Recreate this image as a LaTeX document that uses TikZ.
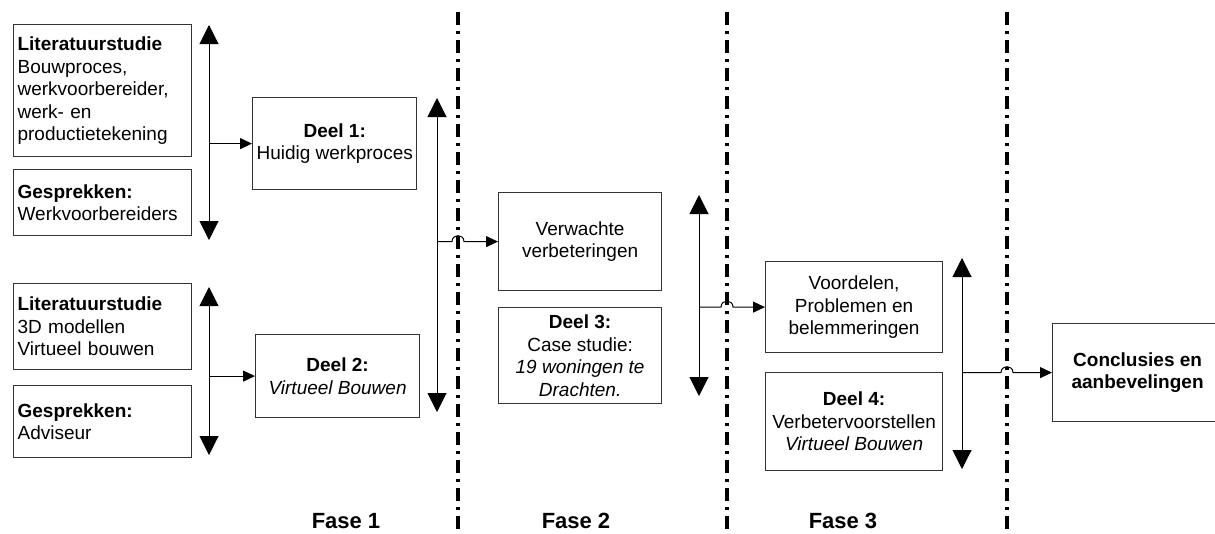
\documentclass[tikz,border=0pt]{standalone}
\usepackage{fontspec}
\setmainfont{Liberation Sans}
\usetikzlibrary{arrows.meta}
\begin{document}
\begin{tikzpicture}[x=1pt,y=-1pt,
  box/.style={draw=black!80, line width=1.2pt, inner sep=4pt, align=center,
    font=\fontsize{19}{22.5}\selectfont, anchor=north west},
  lbox/.style={box, align=left, text width=170pt},
  dbl/.style={line width=1pt, {Triangle[length=19pt,width=19pt]}-{Triangle[length=19pt,width=19pt]}},
  conn/.style={line width=1pt, -{Triangle[length=12pt,width=11pt]}},
  sep/.style={line width=3.5pt, dash pattern=on 13pt off 6pt on 3pt off 6pt},
  fase/.style={font=\fontsize{22}{26}\selectfont\bfseries}]
\useasboundingbox (0,0) rectangle (1215,533);

% separator lines
\coordinate (L1t) at (458,12); \coordinate (L1b) at (458,533);
\coordinate (L2t) at (727,12); \coordinate (L2b) at (727,533);
\coordinate (L3t) at (1007,12); \coordinate (L3b) at (1007,533);
\draw[sep] (L1t) -- (L1b);
\draw[sep] (L2t) -- (L2b);
\draw[sep] (L3t) -- (L3b);

% left input boxes
\node[lbox, minimum width=178pt, minimum height=132pt] (b1) at (13,24)
  {\textbf{Literatuurstudie}\\Bouwproces,\\werkvoorbereider,\\werk- en\\productietekening};
\node[lbox, minimum width=178pt, minimum height=66pt] (b2) at (13,169)
  {\textbf{Gesprekken:}\\Werkvoorbereiders};
\node[lbox, minimum width=178pt, minimum height=86pt] (b3) at (13,283)
  {\textbf{Literatuurstudie}\\3D modellen\\Virtueel bouwen};
\node[lbox, minimum width=178pt, minimum height=72pt] (b4) at (13,385)
  {\textbf{Gesprekken:}\\Adviseur};

% Deel boxes
\node[box, minimum width=164pt, minimum height=92pt] (d1) at (252,97)
  {\textbf{Deel 1:}\\Huidig werkproces};
\node[box, minimum width=164pt, minimum height=83pt] (d2) at (255,334)
  {\textbf{Deel 2:}\\\textit{Virtueel Bouwen}};
\node[box, minimum width=163pt, minimum height=98pt] (v) at (498,192)
  {Verwachte\\verbeteringen};
\node[box, minimum width=163pt, minimum height=96pt] (d3) at (498,307)
  {\textbf{Deel 3:}\\Case studie:\\\textit{19 woningen te}\\\textit{Drachten.}};
\node[box, minimum width=177pt, minimum height=91pt] (vp) at (765,261)
  {Voordelen,\\Problemen en\\belemmeringen};
\node[box, minimum width=177pt, minimum height=98pt] (d4) at (765,372)
  {\textbf{Deel 4:}\\Verbetervoorstellen\\\textit{Virtueel Bouwen}};
\node[box, minimum width=170pt, minimum height=98pt, font=\fontsize{19}{22.5}\selectfont\bfseries] (c) at (1052,323)
  {Conclusies en\\aanbevelingen};

% vertical double arrows
\coordinate (a1t) at (209,25);  \coordinate (a1b) at (209,240);
\coordinate (a2t) at (209,287); \coordinate (a2b) at (209,455);
\coordinate (a3t) at (437,98);  \coordinate (a3b) at (437,412);
\coordinate (a4t) at (699,195); \coordinate (a4b) at (699,396);
\coordinate (a5t) at (962,258); \coordinate (a5b) at (962,469);
\draw[dbl] (a1t) -- (a1b);
\draw[dbl] (a2t) -- (a2b);
\draw[dbl] (a3t) -- (a3b);
\draw[dbl] (a4t) -- (a4b);
\draw[dbl] (a5t) -- (a5b);

% horizontal connectors
\draw[conn] (a1t |- d1.west) -- (d1.west);
\draw[conn] (a2t |- d2.west) -- (d2.west);

\coordinate (h1) at (L1t |- v.west);
\draw[conn] (a3t |- v.west) -- ([xshift=-6pt]h1)
  .. controls ([xshift=-6pt,yshift=8pt]h1) and ([xshift=6pt,yshift=8pt]h1) .. ([xshift=6pt]h1)
  -- (v.west);
\coordinate (h2) at (L2t |- vp.west);
\draw[conn] (a4t |- vp.west) -- ([xshift=-6pt]h2)
  .. controls ([xshift=-6pt,yshift=8pt]h2) and ([xshift=6pt,yshift=8pt]h2) .. ([xshift=6pt]h2)
  -- (vp.west);
\coordinate (h3) at (L3t |- c.west);
\draw[conn] (a5t |- c.west) -- ([xshift=-6pt]h3)
  .. controls ([xshift=-6pt,yshift=8pt]h3) and ([xshift=6pt,yshift=8pt]h3) .. ([xshift=6pt]h3)
  -- (c.west);

% phase labels
\node[fase] (f1) at (346,521) {Fase 1};
\node[fase] (f2) at (576,521) {Fase 2};
\node[fase] (f3) at (843,521) {Fase 3};
\end{tikzpicture}
\end{document}
